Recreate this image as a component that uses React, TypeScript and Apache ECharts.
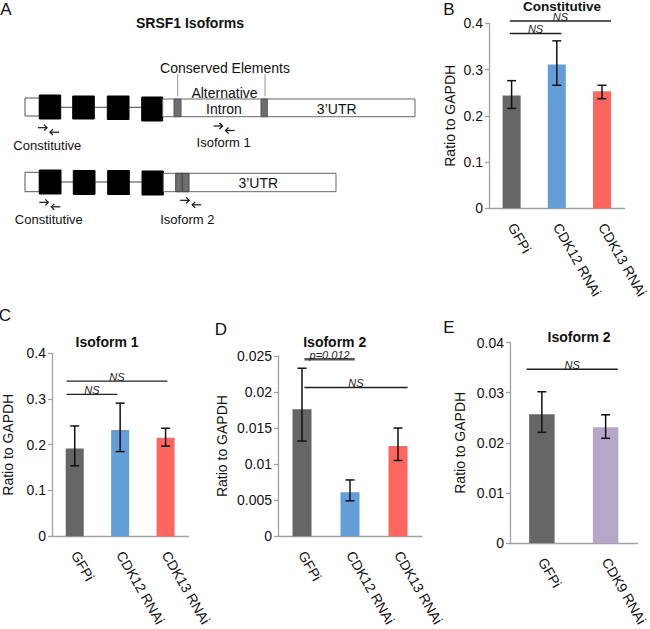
import React, { useEffect, useRef } from "react";
import * as echarts from "echarts";

const FONT = "'Liberation Sans', Arial, Helvetica, sans-serif";

// ---------- data ----------
const catsB = ["GFPi", "CDK12 RNAi", "CDK13 RNAi"];
const meansB = [0.244, 0.311, 0.253];
const lowB = [0.216, 0.266, 0.237];
const highB = [0.276, 0.362, 0.266];

const catsC = ["GFPi", "CDK12 RNAi", "CDK13 RNAi"];
const meansC = [0.192, 0.232, 0.215];
const lowC = [0.154, 0.185, 0.197];
const highC = [0.241, 0.291, 0.236];

const catsD = ["GFPi", "CDK12 RNAi", "CDK13 RNAi"];
const meansD = [0.0176, 0.0061, 0.0125];
const lowD = [0.0132, 0.0049, 0.0105];
const highD = [0.0233, 0.0078, 0.015];

const catsE = ["GFPi", "CDK9 RNAi"];
const meansE = [0.0257, 0.0231];
const lowE = [0.0221, 0.0209];
const highE = [0.0302, 0.0256];

const colors3 = ["#666666", "#629fd9", "#ff665e"];
const colorsE = ["#666666", "#b4a7c8"];

// significance brackets: [from (category pos), to (category pos), y value]
const sigB = [[-0.04, 2.2, 0.405], [-0.04, 1.1, 0.378]];
const sigBLabels = ["NS", "NS"];
const sigC = [[-0.18, 2.04, 0.339], [-0.18, 0.94, 0.31]];
const sigCLabels = ["NS", "NS"];
const sigD = [[0.05, 1.1, 0.02456], [0.05, 2.2, 0.02063]];
const sigDLabels = ["p=0.012", "NS"];
const sigE = [[-0.24, 1.19, 0.0347]];
const sigELabels = ["NS"];

const panelTitles = ["Constitutive", "Isoform 1", "Isoform 2", "Isoform 2"];

// ---------- helpers ----------
const AXIS_COLOR = "#a3a3a3";

function errorSeries(idx: number, low: number[], high: number[]) {
  return {
    type: "custom",
    xAxisIndex: idx,
    yAxisIndex: idx,
    encode: { x: 0, y: [1, 2] },
    data: low.map((l, i) => [i, l, high[i]]),
    z: 5,
    renderItem: (params: any, api: any) => {
      const i = api.value(0);
      const p1 = api.coord([i, api.value(1)]);
      const p2 = api.coord([i, api.value(2)]);
      const c = 4.5;
      const st = { stroke: "#111", lineWidth: 1.5 };
      return {
        type: "group",
        children: [
          { type: "line", shape: { x1: p1[0], y1: p1[1], x2: p2[0], y2: p2[1] }, style: st },
          { type: "line", shape: { x1: p1[0] - c, y1: p1[1], x2: p1[0] + c, y2: p1[1] }, style: st },
          { type: "line", shape: { x1: p2[0] - c, y1: p2[1], x2: p2[0] + c, y2: p2[1] }, style: st },
        ],
      };
    },
  };
}

function sigSeries(idx: number, sig: number[][], labels: string[], styles?: any[]) {
  return {
    type: "custom",
    xAxisIndex: idx,
    yAxisIndex: idx,
    encode: { x: 0, y: 1 },
    clip: false,
    z: 6,
    data: sig.map((s) => [0, s[2], s[0], s[1]]),
    renderItem: (params: any, api: any) => {
      const base = api.coord([0, api.value(1)]);
      const band = api.size([1, 0])[0];
      const x1 = base[0] + api.value(2) * band;
      const x2 = base[0] + api.value(3) * band;
      const y = base[1];
      const st = (styles && styles[params.dataIndex]) || { stroke: "#222", lineWidth: 1.3 };
      return {
        type: "group",
        children: [
          { type: "line", shape: { x1, y1: y, x2, y2: y }, style: st },
          {
            type: "text",
            x: (x1 + x2) / 2,
            y: y + 1.5,
            style: {
              text: labels[params.dataIndex],
              fontSize: 11,
              fontStyle: "italic",
              fontFamily: FONT,
              fill: "#222",
              align: "center",
              verticalAlign: "bottom",
            },
          },
        ],
      };
    },
  };
}

function yAxis(idx: number, max: number, interval: number, nameGap: number) {
  return {
    type: "value",
    gridIndex: idx,
    min: 0,
    max,
    interval,
    name: "Ratio to GAPDH",
    nameLocation: "middle",
    nameGap,
    nameTextStyle: { fontSize: 14, fontFamily: FONT, color: "#111" },
    axisLine: { show: true, lineStyle: { color: AXIS_COLOR, width: 1.3 } },
    axisTick: { show: true, length: 4, lineStyle: { color: AXIS_COLOR, width: 1.3 } },
    splitLine: { show: false },
    axisLabel: { fontSize: 14, fontFamily: FONT, color: "#111", margin: 6 },
  };
}

function xAxis(idx: number, cats: string[]) {
  return {
    type: "category",
    gridIndex: idx,
    data: cats,
    axisLine: { show: true, lineStyle: { color: AXIS_COLOR, width: 1.3 } },
    axisTick: { show: false },
    axisLabel: { interval: 0, rotate: -60, fontSize: 14, fontFamily: FONT, color: "#111", margin: 16 },
  };
}

function barSeries(idx: number, means: number[], colors: string[], width: number) {
  return {
    type: "bar",
    xAxisIndex: idx,
    yAxisIndex: idx,
    barWidth: width,
    data: means.map((v, i) => ({ value: v, itemStyle: { color: colors[i] } })),
  };
}

function txt(text: string, x: number, y: number, size = 13, extra: any = {}) {
  return {
    type: "text",
    x,
    y,
    style: {
      text,
      fontSize: size,
      fontFamily: FONT,
      fill: "#111",
      align: "center",
      verticalAlign: "middle",
      ...extra,
    },
  };
}

function rect(x: number, y: number, w: number, h: number, fill: string, stroke = "#555") {
  return { type: "rect", shape: { x, y, width: w, height: h }, style: { fill, stroke, lineWidth: 1 } };
}

function ln(x1: number, y1: number, x2: number, y2: number, stroke = "#444", w = 1) {
  return { type: "line", shape: { x1, y1, x2, y2 }, style: { stroke, lineWidth: w } };
}

function arrow(x: number, y: number, dir: number) {
  const st = { stroke: "#111", lineWidth: 1.2, fill: "none" };
  const tip = x + dir * 4.5;
  return [
    ln(x - dir * 4.5, y, tip, y, "#111", 1.2),
    { type: "polyline", shape: { points: [[tip - dir * 3, y - 3], [tip, y], [tip - dir * 3, y + 3]] }, style: st },
  ];
}

function arrowPair(x: number, y: number) {
  return [...arrow(x, y, 1), ...arrow(x + 12, y + 4.5, -1)];
}

function diagram() {
  const els: any[] = [];
  // Row 1
  els.push(ln(39, 107.3, 163, 107.3, "#444", 1));
  els.push(rect(25, 98, 14.3, 18, "#fff"));
  [[39.3, 95, 21.4, 24], [72.7, 96, 21.6, 23], [107.3, 96, 21.7, 23.5], [141.7, 97, 21, 24]].forEach((e) =>
    els.push(rect(e[0], e[1], e[2], e[3], "#000", "#000"))
  );
  els.push(rect(162.7, 99, 252.3, 17.7, "#fff", "#666"));
  els.push(rect(174, 99, 7, 17.7, "#6e6e6e", "#555"));
  els.push(rect(261, 99, 6.3, 17.7, "#6e6e6e", "#555"));
  els.push(txt("Alternative", 224.5, 93.3, 14));
  els.push(txt("Intron", 224, 108.5, 14));
  els.push(txt("3’UTR", 336.7, 108.5, 14));
  els.push(txt("Conserved Elements", 225, 67.7, 14));
  els.push(ln(177.7, 74, 177.7, 96.5, "#999", 1));
  els.push(ln(265, 74, 265, 96.5, "#999", 1));
  els.push(...arrowPair(42.5, 127.7));
  els.push(txt("Constitutive", 47.3, 145, 13));
  els.push(...arrowPair(218, 126));
  els.push(txt("Isoform 1", 223.7, 142.7, 13));
  // Row 2
  els.push(ln(39, 182, 163, 182, "#444", 1));
  els.push(rect(25, 172.3, 14.3, 19.4, "#fff"));
  [[39.3, 170, 21.7, 24], [73.3, 170.5, 21.7, 24], [107.7, 170.5, 21.6, 24], [142, 171, 21.3, 24]].forEach((e) =>
    els.push(rect(e[0], e[1], e[2], e[3], "#000", "#000"))
  );
  els.push(rect(163.3, 173.3, 172.7, 18.4, "#fff", "#666"));
  els.push(rect(175.7, 173.3, 6.6, 18.4, "#6e6e6e", "#444"));
  els.push(rect(182.3, 173.3, 6.7, 18.4, "#6e6e6e", "#444"));
  els.push(txt("3’UTR", 258.3, 182.7, 14));
  els.push(...arrowPair(43.8, 202.3));
  els.push(txt("Constitutive", 48.8, 219.3, 13));
  els.push(...arrowPair(184.7, 200.3));
  els.push(txt("Isoform 2", 187.3, 219.3, 13));
  // title
  els.push(txt("SRSF1 Isoforms", 190, 23.3, 14, { fontWeight: "bold" }));
  return els;
}

export default function App() {
  const ref = useRef<HTMLDivElement>(null);
  useEffect(() => {
    document.body.style.margin = "0";
    const chart = echarts.init(ref.current!, null, { renderer: "svg" });
    const option: any = {
      animation: false,
      backgroundColor: "#fff",
      grid: [
        { left: 489, top: 23.3, width: 138, height: 185 },
        { left: 49.3, top: 353.3, width: 139, height: 186 },
        { left: 278, top: 356, width: 144, height: 184.7 },
        { left: 510, top: 342.7, width: 128, height: 200.6 },
      ],
      xAxis: [xAxis(0, catsB), xAxis(1, catsC), xAxis(2, catsD), xAxis(3, catsE)],
      yAxis: [
        yAxis(0, 0.4, 0.1, 32),
        yAxis(1, 0.4, 0.1, 37),
        yAxis(2, 0.025, 0.005, 49),
        yAxis(3, 0.04, 0.01, 43),
      ],
      series: [
        barSeries(0, meansB, colors3, 18),
        barSeries(1, meansC, colors3, 18),
        barSeries(2, meansD, colors3, 19),
        barSeries(3, meansE, colorsE, 25.5),
        errorSeries(0, lowB, highB),
        errorSeries(1, lowC, highC),
        errorSeries(2, lowD, highD),
        errorSeries(3, lowE, highE),
        sigSeries(0, sigB, sigBLabels),
        sigSeries(1, sigC, sigCLabels),
        sigSeries(2, sigD, sigDLabels, [{ stroke: "#555", lineWidth: 2.5 }, { stroke: "#222", lineWidth: 1.3 }]),
        sigSeries(3, sigE, sigELabels),
      ],
      graphic: [
        ...diagram(),
        txt(panelTitles[0], 562, 6, 13.5, { fontWeight: "bold" }),
        txt(panelTitles[1], 107, 341.7, 14, { fontWeight: "bold" }),
        txt(panelTitles[2], 334.7, 341.7, 14, { fontWeight: "bold" }),
        txt(panelTitles[3], 579, 337.3, 14, { fontWeight: "bold" }),
        txt("A", 6, 9, 17),
        txt("B", 449, 9, 17),
        txt("C", 5, 315.5, 17),
        txt("D", 221, 329, 17),
        txt("E", 449, 327, 17),
      ],
    };
    chart.setOption(option);
    return () => chart.dispose();
  }, []);
  return <div ref={ref} style={{ width: 650, height: 629 }} />;
}
